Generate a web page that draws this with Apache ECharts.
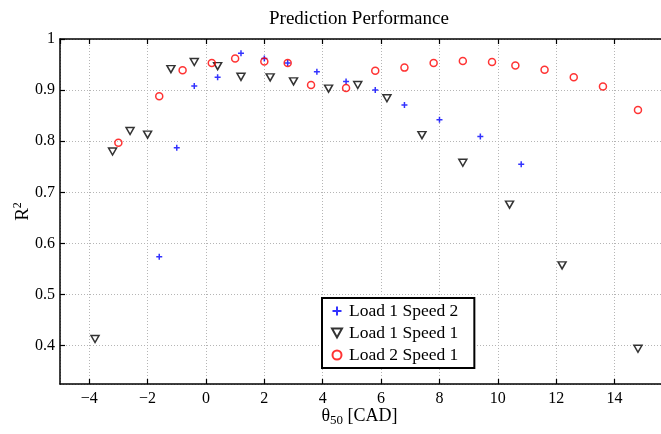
<!DOCTYPE html>
<html>
<head>
<meta charset="utf-8">
<script src="https://cdn.jsdelivr.net/npm/echarts@6/dist/echarts.min.js"></script>
<style>
  html, body { margin: 0; padding: 0; background: #fff; }
  #chart { width: 661px; height: 434px; }
</style>
</head>
<body>
<div id="chart"></div>
<script>
const seriesNames = ['Load 1 Speed 2', 'Load 1 Speed 1', 'Load 2 Speed 1'];

const load1Speed2X = [-1.6, -1.0, -0.4, 0.4, 1.2, 2.0, 2.8, 3.8, 4.8, 5.8, 6.8, 8.0, 9.4, 10.8];
const load1Speed2Y = [0.574, 0.787, 0.908, 0.925, 0.972, 0.962, 0.953, 0.936, 0.917, 0.900, 0.871, 0.842, 0.809, 0.755];

const load1Speed1X = [-3.8, -3.2, -2.6, -2.0, -1.2, -0.4, 0.4, 1.2, 2.2, 3.0, 4.2, 5.2, 6.2, 7.4, 8.8, 10.4, 12.2, 14.8];
const load1Speed1Y = [0.413, 0.780, 0.820, 0.813, 0.941, 0.955, 0.947, 0.926, 0.925, 0.917, 0.903, 0.910, 0.884, 0.812, 0.758, 0.676, 0.557, 0.394];

const load2Speed1X = [-3.0, -1.6, -0.8, 0.2, 1.0, 2.0, 2.8, 3.6, 4.8, 5.8, 6.8, 7.8, 8.8, 9.8, 10.6, 11.6, 12.6, 13.6, 14.8];
const load2Speed1Y = [0.797, 0.888, 0.939, 0.953, 0.962, 0.956, 0.953, 0.910, 0.904, 0.938, 0.944, 0.953, 0.957, 0.955, 0.948, 0.940, 0.925, 0.907, 0.861];

const FONT = 'Liberation Serif';
const zip = (xs, ys) => xs.map((x, i) => [x, ys[i]]);

const plusPath = 'path://M5,0 L5,10 M0,5 L10,5';
const triDownPath = 'path://M0,0 L10,0 L5,9 Z';

const chart = echarts.init(document.getElementById('chart'));

const axisCommon = {
  axisLine: { onZero: false, lineStyle: { color: '#000', width: 1.5 } },
  axisTick: { inside: true, length: 5, lineStyle: { color: '#000', width: 1.2 } },
};

chart.setOption({
  animation: false,
  backgroundColor: '#fff',
  title: {
    text: 'Prediction Performance',
    left: 264,
    top: 5,
    textStyle: { fontFamily: FONT, fontSize: 19, fontWeight: 'normal', color: '#000' },
  },
  grid: { left: 60, right: -12, top: 39, bottom: 50, outerBoundsMode: 'none', containLabel: false },
  legend: {
    orient: 'vertical',
    left: 322,
    top: 298,
    padding: [4, 16, 4, 8],
    itemGap: 4,
    itemWidth: 14,
    itemHeight: 9,
    backgroundColor: '#fff',
    borderColor: '#000',
    borderWidth: 2,
    borderRadius: 0,
    data: seriesNames,
    textStyle: { fontFamily: FONT, fontSize: 17.5, color: '#000', lineHeight: 18 },
  },
  xAxis: [{
    type: 'value',
    min: -5,
    max: 16,
    splitNumber: 10,
    ...axisCommon,
    axisLabel: {
      showMinLabel: false,
      fontFamily: FONT, fontSize: 16, color: '#000', margin: 7,
      formatter: v => String(v).replace('-', '\u2212'),
    },
    splitLine: { show: true, lineStyle: { color: '#b5b5b5', type: [1, 2], width: 1 } },
    name: '{t|\u03b8}{s|50}{t| [CAD]}',
    nameLocation: 'middle',
    nameMoveOverlap: false,
    nameGap: 21,
    nameTextStyle: {
      padding: [0, 14, 0, 0],
      rich: {
        t: { fontFamily: FONT, fontSize: 18, color: '#000' },
        s: { fontFamily: FONT, fontSize: 13, color: '#000', padding: [9, 0, 0, 0] },
      },
    },
  }, {
    type: 'value',
    position: 'top',
    min: -5,
    max: 16,
    splitNumber: 10,
    ...axisCommon,
    axisLabel: { show: false },
    splitLine: { show: false },
  }],
  yAxis: {
    type: 'value',
    min: 0.325,
    max: 1,
    splitNumber: 7,
    ...axisCommon,
    axisLabel: { showMinLabel: false, fontFamily: FONT, fontSize: 16, color: '#000', margin: 5 },
    splitLine: { show: true, lineStyle: { color: '#b5b5b5', type: [1, 2], width: 1 } },
    name: '{r|R}{p|2}',
    nameLocation: 'middle',
    nameMoveOverlap: false,
    nameGap: 26,
    nameTextStyle: {
      rich: {
        r: { fontFamily: FONT, fontSize: 19, color: '#000' },
        p: { fontFamily: FONT, fontSize: 12, color: '#000', padding: [0, 0, 10, 0] },
      },
    },
  },
  series: [{
    name: seriesNames[0],
    type: 'scatter',
    data: zip(load1Speed2X, load1Speed2Y),
    symbol: plusPath,
    symbolSize: 6,
    itemStyle: { color: 'none', borderColor: '#0000ff', borderWidth: 1.5 },
    z: 2,
  }, {
    name: seriesNames[1],
    type: 'scatter',
    data: zip(load1Speed1X, load1Speed1Y),
    symbol: triDownPath,
    symbolSize: [8, 7],
    itemStyle: { color: '#fff', borderColor: '#000', borderWidth: 1.5 },
    z: 3,
  }, {
    name: seriesNames[2],
    type: 'scatter',
    data: zip(load2Speed1X, load2Speed1Y),
    symbol: 'circle',
    symbolSize: 7,
    itemStyle: { color: 'rgba(255,255,255,0)', borderColor: '#ff0000', borderWidth: 1.5 },
    z: 4,
  }],
});

window.addEventListener('resize', () => chart.resize());
</script>
</body>
</html>
